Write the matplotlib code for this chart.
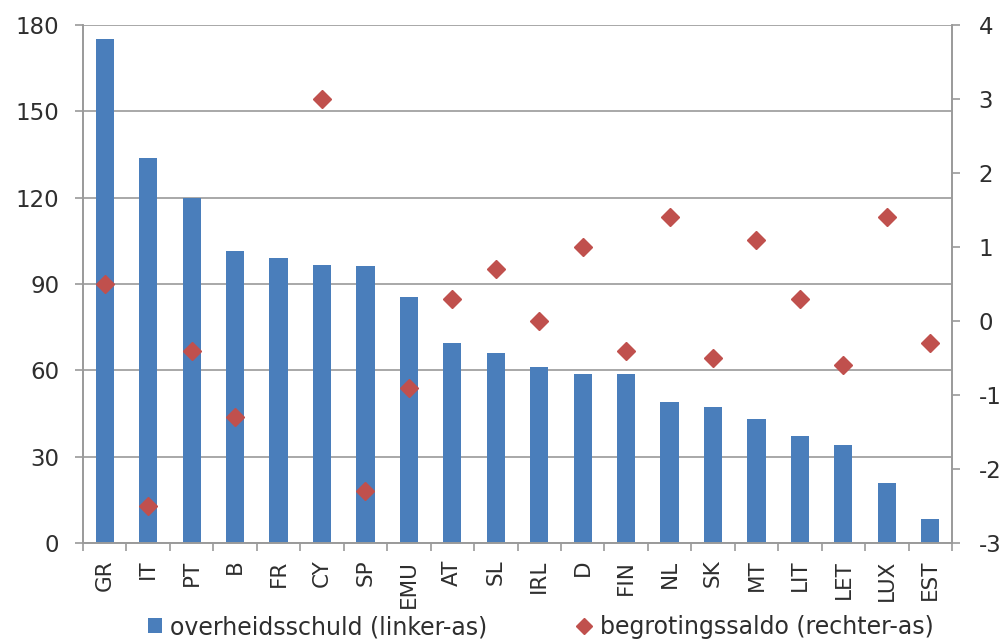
import numpy as np
import matplotlib
matplotlib.use("Agg")
import matplotlib.pyplot as plt
from matplotlib.lines import Line2D
from matplotlib.patches import Patch

categories = ["GR", "IT", "PT", "B", "FR", "CY", "SP", "EMU", "AT", "SL",
              "IRL", "D", "FIN", "NL", "SK", "MT", "LIT", "LET", "LUX", "EST"]
schuld = [175.2, 133.7, 120.0, 101.3, 99.2, 96.5, 96.4, 85.6, 69.4, 65.9,
          61.3, 58.7, 58.7, 49.0, 47.3, 43.1, 37.2, 34.0, 20.7, 8.3]
saldo = [0.5, -2.5, -0.4, -1.3, np.nan, 3.0, -2.3, -0.9, 0.3, 0.7,
         0.0, 1.0, -0.4, 1.4, -0.5, 1.1, 0.3, -0.6, 1.4, -0.3]
left_ticks = [0, 30, 60, 90, 120, 150, 180]
right_ticks = [-3, -2, -1, 0, 1, 2, 3, 4]
label_bar = "overheidsschuld (linker-as)"
label_dot = "begrotingssaldo (rechter-as)"

blue = "#4a7ebb"
red = "#c0504d"
txt = "#2e2e2e"
gridc = "#9a9a9a"

plt.rcParams['font.family'] = ['DejaVu Sans']
plt.rcParams['axes.unicode_minus'] = False
fig = plt.figure(figsize=(10.06, 6.40), dpi=100)
ax = fig.add_axes([83/1006, 1-543/640, (952-83)/1006, (543-25)/640])
x = np.arange(len(categories))

ax.set_axisbelow(True)
ax.bar(x, schuld, width=0.42, color=blue, zorder=2)
ax.set_xlim(-0.5, len(categories) - 0.5)
ax.set_ylim(0, 180)
ax.set_yticks(left_ticks)
ax.yaxis.grid(True, color=gridc, lw=1.2)
ax.set_xticks(x)
ax.set_xticklabels(categories, rotation=90, fontsize=15.5, color=txt)
ax.set_xticks(np.arange(-0.5, len(categories)), minor=True)
ax.tick_params(axis='x', which='major', length=0, pad=12)
ax.tick_params(axis='x', which='minor', length=6, color=gridc, width=1.2, direction='out')
ax.tick_params(axis='y', labelsize=16.5, labelcolor=txt, length=6, color=gridc, width=1.2, pad=11)
ax.spines['top'].set_visible(False)
for s in ['left', 'bottom', 'right']:
    ax.spines[s].set_color(gridc)
    ax.spines[s].set_linewidth(1.2)

ax2 = ax.twinx()
ax2.plot(x, saldo, linestyle='none', marker='D', markersize=9, color=red, zorder=3)
ax2.set_ylim(-3, 4)
ax2.set_yticks(right_ticks)
ax2.tick_params(axis='y', labelsize=16.5, labelcolor=txt, length=6, color=gridc, width=1.2, pad=13)
ax2.spines['top'].set_visible(False)
for s in ['left', 'bottom', 'right']:
    ax2.spines[s].set_color(gridc)
    ax2.spines[s].set_linewidth(1.2)

handles = [Patch(facecolor=blue, edgecolor='none'),
           Line2D([], [], linestyle='none', marker='D', markersize=8, color=red)]
fig.legend(handles, [label_bar, label_dot], loc='center left',
           bbox_to_anchor=(148/1006, 0.02), borderpad=0, borderaxespad=0,
           ncol=2, frameon=False, fontsize=17, labelcolor=txt, columnspacing=3.8,
           handlelength=0.6, handletextpad=0.35, handleheight=0.6)

fig.savefig("out.png", dpi=100)
